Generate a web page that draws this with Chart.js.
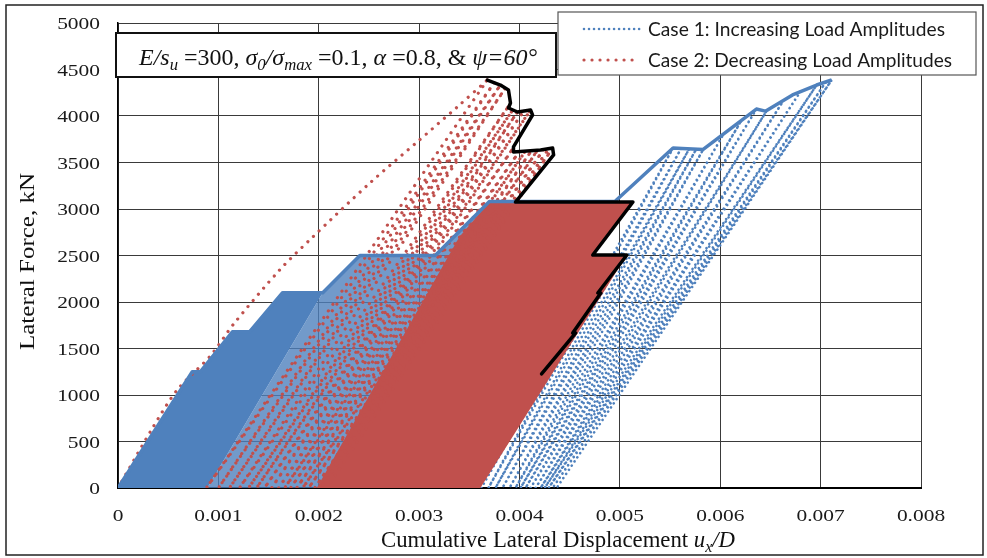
<!DOCTYPE html>
<html>
<head>
<meta charset="utf-8">
<title>Lateral force vs cumulative lateral displacement</title>
<script src="https://cdn.jsdelivr.net/npm/chart.js@4.4.1/dist/chart.umd.min.js"></script>
<style>
  html, body { margin: 0; padding: 0; background: #fff; }
  canvas { display: block; }
</style>
</head>
<body>
<canvas id="chart" width="987" height="558"></canvas>
<script>
// axis ticks
const xTicks = [0, 0.001, 0.002, 0.003, 0.004, 0.005, 0.006, 0.007, 0.008];
const xTickLabels = ['0', '0.001', '0.002', '0.003', '0.004', '0.005', '0.006', '0.007', '0.008'];
const yTicks = [0, 500, 1000, 1500, 2000, 2500, 3000, 3500, 4000, 4500, 5000];
const yTickLabels = ['0', '500', '1000', '1500', '2000', '2500', '3000', '3500', '4000', '4500', '5000'];

// Case 1 - increasing load amplitudes
// backbone through the plateau of each load stage
const case1EnvelopeX = [0, 0.00074, 0.00082, 0.00114, 0.00131, 0.00164, 0.00204, 0.00241, 0.00316,
  0.00370, 0.00495, 0.00553, 0.00562, 0.00583, 0.00636, 0.00645, 0.00672, 0.00696, 0.00711];
const case1EnvelopeY = [0, 1250, 1250, 1680, 1680, 2100, 2100, 2500, 2500,
  3080, 3080, 3656, 3650, 3640, 4075, 4052, 4226, 4333, 4387];
// closely packed cycles of stages 1-3 (1250, 1680, 2100 kN)
const case1CoreX = [0, 0.00074, 0.00082, 0.00114, 0.00131, 0.00164, 0.00204, 0.00089, 0];
const case1CoreY = [0, 1250, 1250, 1680, 1680, 2100, 2100, 0, 0];
// cycles of stages 4-5 (2500, 3080 kN)
const case1BandX = [0.00089, 0.00204, 0.00241, 0.00316, 0.00370, 0.00495, 0.00340, 0.00089];
const case1BandY = [0, 2100, 2500, 2500, 3080, 3080, 0, 0];
// single cycles above 3080 kN: zero-force feet and peaks
const case1FootX = [0.00362, 0.00369, 0.00376, 0.00383, 0.00390, 0.00396, 0.00401, 0.00406,
  0.00411, 0.00416, 0.00421, 0.00425, 0.00429, 0.00433, 0.00437];
const case1PeakX = [0.00553, 0.00561, 0.00569, 0.00576, 0.00583, 0.00603, 0.00621,
  0.00636, 0.00646, 0.00662, 0.00680, 0.00696, 0.00705, 0.00711];
const case1PeakY = [3656, 3650, 3645, 3642, 3640, 3800, 3950,
  4075, 4052, 4150, 4265, 4333, 4362, 4387];

// Case 2 - decreasing load amplitudes
const case2VirginX = [0, 0.00035, 0.00059, 0.00092, 0.00115, 0.00161, 0.00193, 0.00251, 0.00298, 0.00338, 0.00368];
const case2VirginY = [0, 656, 1054, 1420, 1760, 2344, 2688, 3280, 3720, 4097, 4387];
const case2FootX = [0.00088, 0.00100, 0.00111, 0.00121, 0.00130, 0.00138, 0.00146, 0.00153, 0.00160,
  0.00166, 0.00172, 0.00178, 0.00184, 0.00190, 0.00196, 0.00202, 0.00208];
const case2PeakX = [0.00375, 0.00381, 0.00386, 0.00390, 0.00393, 0.00398, 0.00404, 0.00411,
  0.00394, 0.00400, 0.00406, 0.00412, 0.00418, 0.00424, 0.00429, 0.00433];
const case2PeakY = [4360, 4333, 4300, 4120, 4060, 4043, 4050, 4065,
  3660, 3622, 3625, 3628, 3632, 3640, 3648, 3656];
// closely packed cycles at 3075 kN and below
const case2BandX = [0.00198, 0.00340, 0.00370, 0.00513, 0.00473, 0.00507, 0.00361, 0.00198];
const case2BandY = [0, 2700, 3075, 3075, 2505, 2505, 0, 0];
// peak force path of case 2
const case2PeakPathX = [0.00368, 0.00381, 0.00389, 0.00391, 0.00389, 0.00398, 0.00411, 0.00413, 0.00404,
  0.00394, 0.00394, 0.00421, 0.00433, 0.00434, 0.00396, 0.00513, 0.00473, 0.00507, 0.00478, 0.00481,
  0.00453, 0.00456, 0.00422];
const case2PeakPathY = [4387, 4333, 4280, 4140, 4086, 4043, 4065, 4011, 3849,
  3667, 3613, 3634, 3656, 3581, 3075, 3075, 2505, 2505, 2097, 2097,
  1667, 1667, 1226];

const BLUE = '#4F81BD';
const RED = '#C0504D';
const SERIF = '"Liberation Serif", "Times New Roman", serif';
const TICK_STRETCH = 1.26;

const zip = (xs, ys) => xs.map((x, i) => ({ x, y: ys[i] }));

// foot -> peak -> foot ... zigzag of load/unload branches
function cyclePath(start, feetX, peaksX, peaksY) {
  const pts = start ? [start] : [];
  const n = Math.max(feetX.length, peaksX.length);
  for (let i = 0; i < n; i++) {
    if (i < feetX.length) pts.push({ x: feetX[i], y: 0 });
    if (i < peaksX.length) pts.push({ x: peaksX[i], y: peaksY[i] });
  }
  return pts;
}

const dotted = (color, width, gap) => ({
  borderColor: color, borderWidth: width, borderDash: [0.01, gap],
  borderCapStyle: 'round', pointRadius: 0, fill: false, showLine: true
});
const area = (color) => ({
  backgroundColor: color, borderWidth: 0, pointRadius: 0, fill: 'shape', showLine: true
});

const datasets = [
  { label: 'peak path', data: zip(case2PeakPathX, case2PeakPathY), order: 0,
    borderColor: '#000', borderWidth: 3.5, borderJoinStyle: 'round', borderCapStyle: 'round',
    pointRadius: 0, fill: false, showLine: true },
  { label: 'case 1 envelope', data: zip(case1EnvelopeX, case1EnvelopeY), order: 1,
    borderColor: BLUE, borderWidth: 3.5, borderJoinStyle: 'round', pointRadius: 0, fill: false, showLine: true },
  { label: 'Case 2: Decreasing Load Amplitudes', legend: true, order: 2,
    data: cyclePath({ x: case2VirginX[case2VirginX.length - 1], y: case2VirginY[case2VirginY.length - 1] },
      case2FootX, case2PeakX, case2PeakY),
    ...dotted(RED, 3.2, 8) },
  { label: 'case 2 first loading', data: zip(case2VirginX, case2VirginY), order: 3,
    tension: 0.3, ...dotted(RED, 3.2, 8) },
  { label: 'case 2 band', data: zip(case2BandX, case2BandY), order: 4, ...area(RED) },
  { label: 'Case 1: Increasing Load Amplitudes', legend: true, order: 5,
    data: cyclePath(null, case1FootX, case1PeakX, case1PeakY), ...dotted(BLUE, 2.6, 5) },
  { label: 'case 1 band', data: zip(case1BandX, case1BandY), order: 6, ...area('rgba(79,129,189,0.8)') },
  { label: 'case 1 core', data: zip(case1CoreX, case1CoreY), order: 7, ...area(BLUE) }
];

function fontFor(style, size, family) {
  const sub = style.includes('s');
  return (style.includes('i') ? 'italic ' : '') + Math.round(sub ? size * 0.68 : size) + 'px ' + family;
}

// mixed italic / subscript text, stretched to a given width
function drawRich(ctx, parts, x, y, size, family, width) {
  let natural = 0;
  const widths = parts.map(([t, st]) => {
    ctx.font = fontFor(st, size, family);
    const w = ctx.measureText(t).width;
    natural += w;
    return w;
  });
  ctx.save();
  ctx.translate(x, y);
  ctx.scale(width / natural, 1);
  ctx.textAlign = 'left';
  ctx.textBaseline = 'alphabetic';
  let cx = 0;
  parts.forEach(([t, st], i) => {
    ctx.font = fontFor(st, size, family);
    ctx.fillText(t, cx, st.includes('s') ? size * 0.22 : 0);
    cx += widths[i];
  });
  ctx.restore();
}

function drawTick(ctx, text, x, y, align) {
  ctx.save();
  ctx.translate(x, y);
  ctx.scale(TICK_STRETCH, 1);
  ctx.textAlign = align;
  ctx.fillText(text, 0, 0);
  ctx.restore();
}

const decor = {
  id: 'decor',
  afterDraw(chart) {
    const { ctx, scales } = chart;
    ctx.save();

    // tick labels, placed by the axes
    ctx.fillStyle = '#1a1a1a';
    ctx.font = `17px ${SERIF}`;
    ctx.textBaseline = 'alphabetic';
    xTicks.forEach((v, i) => drawTick(ctx, xTickLabels[i], scales.x.getPixelForValue(v), 521, 'center'));
    yTicks.forEach((v, i) => drawTick(ctx, yTickLabels[i], 100, scales.y.getPixelForValue(v) + 6, 'right'));

    // parameter box
    ctx.fillStyle = '#fff';
    ctx.fillRect(116, 33, 440, 44);
    ctx.strokeStyle = '#111';
    ctx.lineWidth = 2;
    ctx.strokeRect(116, 33, 440, 44);
    ctx.fillStyle = '#111';
    drawRich(ctx, [['E/s', 'i'], ['u', 'is'], [' =300, ', ''], ['σ', 'i'], ['0', 'is'], ['/σ', 'i'],
      ['max', 'is'], [' =0.1, ', ''], ['α', 'i'], [' =0.8, & ', ''], ['ψ=60°', 'i']],
      139, 65, 23, SERIF, 398);

    // legend
    ctx.fillStyle = '#fff';
    ctx.fillRect(558, 12, 418, 63);
    ctx.strokeStyle = '#555';
    ctx.lineWidth = 1.2;
    ctx.strokeRect(558, 12, 418, 63);
    const items = chart.data.datasets.filter(d => d.legend)
      .sort((a, b) => a.label.localeCompare(b.label));
    items.forEach((d, i) => {
      const y = 29 + i * 31;
      ctx.save();
      ctx.strokeStyle = d.borderColor;
      ctx.lineWidth = d.borderWidth;
      ctx.lineCap = 'round';
      ctx.setLineDash(d.borderDash);
      ctx.beginPath();
      ctx.moveTo(584, y);
      ctx.lineTo(640, y);
      ctx.stroke();
      ctx.restore();
      ctx.fillStyle = '#1a1a1a';
      drawRich(ctx, [[d.label, '']], 648, y + 7, 20, 'Lato, "Noto Sans", sans-serif', i === 0 ? 297 : 304);
    });

    // axis titles
    ctx.fillStyle = '#111';
    drawRich(ctx, [['Cumulative Lateral Displacement ', ''], ['u', 'i'], ['x', 'is'], ['/D', 'i']],
      381, 547, 23, SERIF, 354);
    ctx.save();
    ctx.translate(34, 350);
    ctx.rotate(-Math.PI / 2);
    drawRich(ctx, [['Lateral Force, kN', '']], 0, 0, 21, SERIF, 177);
    ctx.restore();

    // outer frame
    ctx.strokeStyle = '#222';
    ctx.lineWidth = 1.5;
    ctx.strokeRect(6, 5, 977, 550);
    ctx.restore();
  }
};

new Chart(document.getElementById('chart'), {
  type: 'scatter',
  data: { datasets },
  options: {
    responsive: false,
    animation: false,
    events: [],
    layout: { padding: { top: 23, right: 66, left: 0, bottom: 0 } },
    plugins: { legend: { display: false }, tooltip: { enabled: false } },
    scales: {
      x: {
        type: 'linear', min: 0, max: 0.008,
        afterBuildTicks: s => { s.ticks = xTicks.map(v => ({ value: v })); },
        afterFit: s => { s.height = 70; },
        grid: { color: '#3a3a3a', lineWidth: 1, drawTicks: false },
        border: { color: '#000', width: 2 },
        ticks: { display: false }
      },
      y: {
        type: 'linear', min: 0, max: 5000,
        afterBuildTicks: s => { s.ticks = yTicks.map(v => ({ value: v })); },
        afterFit: s => { s.width = 118; },
        grid: { color: '#3a3a3a', lineWidth: 1, drawTicks: false },
        border: { color: '#000', width: 1.5 },
        ticks: { display: false }
      }
    }
  },
  plugins: [decor]
});
</script>
</body>
</html>
